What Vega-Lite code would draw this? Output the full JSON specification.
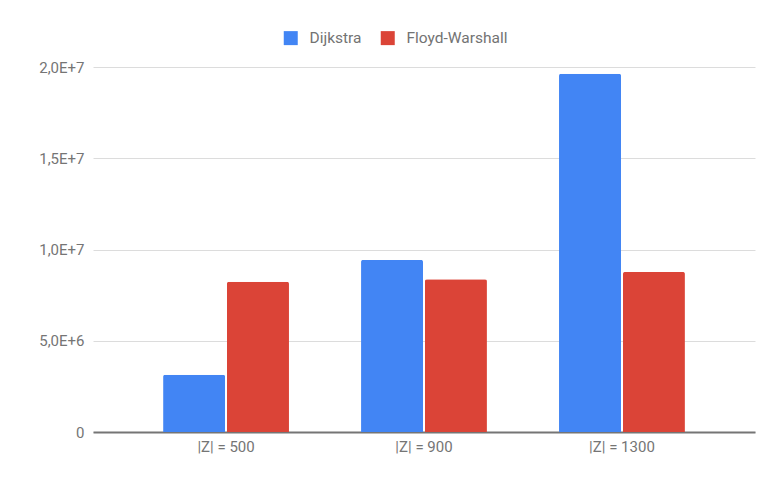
{
  "$schema": "https://vega.github.io/schema/vega-lite/v6.json",
  "width": 662,
  "height": 365,
  "autosize": {"type": "none"},
  "padding": {"left": 93, "top": 67, "right": 22, "bottom": 47},
  "background": "white",
  "config": {
    "view": {"stroke": null},
    "font": "Roboto",
    "axis": {"labelFont": "Roboto", "labelFontSize": 15, "labelColor": "#757575"}
  },
  "data": {
    "values": [
      {"size": "|Z| = 500", "algo": "Dijkstra", "value": 3140000},
      {"size": "|Z| = 500", "algo": "Floyd-Warshall", "value": 8230000},
      {"size": "|Z| = 900", "algo": "Dijkstra", "value": 9430000},
      {"size": "|Z| = 900", "algo": "Floyd-Warshall", "value": 8370000},
      {"size": "|Z| = 1300", "algo": "Dijkstra", "value": 19630000},
      {"size": "|Z| = 1300", "algo": "Floyd-Warshall", "value": 8770000}
    ]
  },
  "mark": {"type": "bar", "cornerRadiusTopLeft": 2, "cornerRadiusTopRight": 2},
  "encoding": {
    "x": {
      "field": "size",
      "type": "nominal",
      "sort": ["|Z| = 500", "|Z| = 900", "|Z| = 1300"],
      "scale": {"paddingInner": 0.364, "paddingOuter": 0.354},
      "axis": {
        "title": null,
        "labelAngle": 0,
        "ticks": false,
        "grid": false,
        "domain": true,
        "domainColor": "#757575",
        "domainWidth": 2,
        "labelPadding": 7
      }
    },
    "xOffset": {
      "field": "algo",
      "type": "nominal",
      "scale": {"paddingInner": 0.03}
    },
    "y": {
      "field": "value",
      "type": "quantitative",
      "scale": {"domain": [0, 20000000], "nice": false},
      "axis": {
        "title": null,
        "values": [0, 5000000, 10000000, 15000000, 20000000],
        "labelExpr": "datum.value == 0 ? '0' : replace(upper(format(datum.value, '.1e')), '.', ',')",
        "domain": false,
        "ticks": false,
        "gridColor": "#dcdcdc",
        "gridWidth": 1,
        "labelPadding": 9
      }
    },
    "color": {
      "field": "algo",
      "type": "nominal",
      "scale": {"domain": ["Dijkstra", "Floyd-Warshall"], "range": ["#4285F4", "#DB4437"]},
      "legend": {
        "title": null,
        "orient": "none",
        "direction": "horizontal",
        "legendX": 190,
        "legendY": -37,
        "symbolType": "square",
        "symbolSize": 196,
        "symbolStrokeWidth": 0,
        "labelFont": "Roboto",
        "labelFontSize": 15.5,
        "labelColor": "#737373",
        "labelOffset": 11,
        "columnPadding": 18,
        "padding": 0
      }
    }
  }
}
